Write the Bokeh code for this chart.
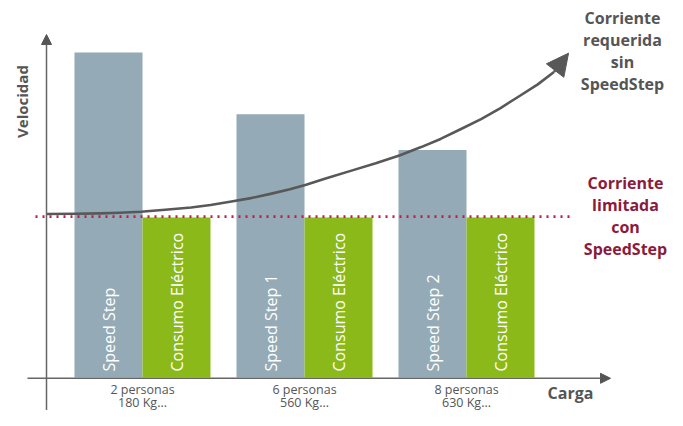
import math
from bokeh.plotting import figure
from bokeh.models import Range1d, Arrow, NormalHead
from bokeh.core.properties import value
from bokeh.embed import file_html
from bokeh.resources import INLINE

# ---------------- data ----------------
category_people = ["2 personas", "6 personas", "8 personas"]
category_load = ["180 Kg...", "560 Kg...", "630 Kg..."]
group_pos = [1, 2, 3]
speed_labels = ["Speed Step", "Speed Step 1", "Speed Step 2"]
speed_values = [100, 81, 70]
consumo_labels = ["Consumo Eléctrico", "Consumo Eléctrico", "Consumo Eléctrico"]
consumo_values = [49.2, 49.2, 49.2]
limit_value = 49.5
curve_x = [0.41, 0.58, 0.74, 0.86, 0.99, 1.14, 1.30, 1.42, 1.54, 1.67, 1.79, 1.91, 2.01,
           2.13, 2.28, 2.44, 2.59, 2.72, 2.84, 2.96, 3.09, 3.21, 3.33, 3.44, 3.54]
curve_y = [50.3, 50.4, 50.5, 50.7, 51.0, 51.6, 52.3, 53.1, 54.1, 55.2, 56.5, 57.9, 59.3,
           61.2, 63.5, 65.9, 68.4, 70.9, 73.4, 76.3, 79.5, 82.9, 86.7, 90.2, 94.0]
curve_tip = (3.63, 99.8)
label_required = "Corriente\nrequerida\nsin\nSpeedStep"
label_limited = "Corriente\nlimitada\ncon\nSpeedStep"
x_title = "Carga"
y_title = "Velocidad"

# ---------------- layout helpers (canvas pixel -> data) ----------------
W, H = 667, 410
PXX, X1 = 162.0, 142.0      # px per group unit, canvas x of group 1
PXY, Y0 = 3.25, 377.0       # px per velocity unit, canvas y of zero

def X(px):
    return 1 + (px - X1) / PXX

def Y(py):
    return (Y0 - py) / PXY

GRAY = "#94aab6"
GREEN = "#8cb91a"
DARK = "#555555"
RED = "#8b1a3b"
DOT = "#c8164f"
FONT = value("Open Sans")

p = figure(width=W, height=H, x_range=Range1d(X(0), X(W)), y_range=Range1d(Y(H), Y(0)),
           x_axis_type=None, y_axis_type=None, toolbar_location=None, output_backend="svg",
           min_border=0, outline_line_color=None)
p.grid.visible = False
p.background_fill_color = "white"

bw = 68 / PXX
speed_x = [g - bw / 2 for g in group_pos]
consumo_x = [g + bw / 2 for g in group_pos]

p.vbar(x=speed_x, width=bw, top=speed_values, bottom=0, fill_color=GRAY, line_color=None)
p.vbar(x=consumo_x, width=bw, top=consumo_values, bottom=0, fill_color=GREEN, line_color=None)

# labels inside bars
p.text(x=speed_x, y=[Y(371)] * 3, text=speed_labels, angle=math.pi / 2, text_align="left",
       text_baseline="middle", text_color="white", text_font=FONT, text_font_size="16px")
p.text(x=consumo_x, y=[Y(371)] * 3, text=consumo_labels, angle=math.pi / 2, text_align="left",
       text_baseline="middle", text_color="white", text_font=FONT, text_font_size="16px")

# dotted limit line
p.line(x=[X(35), X(572)], y=[limit_value, limit_value], line_color=DOT, line_width=2.6,
       line_dash="2 5")

# axes with arrows
p.add_layout(Arrow(x_start=X(46), y_start=Y(412), x_end=X(46), y_end=Y(34),
                   line_color="#666666", line_width=1.5,
                   end=NormalHead(size=10, fill_color="#555555", line_color="#555555")))
p.add_layout(Arrow(x_start=X(27), y_start=Y(377.8), x_end=X(610), y_end=Y(377.8),
                   line_color="#666666", line_width=1.5,
                   end=NormalHead(size=10, fill_color="#555555", line_color="#555555")))

# curve
p.line(x=curve_x, y=curve_y, line_color="#585858", line_width=2.6, line_join="round")
p.add_layout(Arrow(x_start=curve_x[-1], y_start=curve_y[-1], x_end=curve_tip[0], y_end=curve_tip[1],
                   line_color="#585858", line_width=2.6,
                   end=NormalHead(size=22, fill_color="#585858", line_color="#585858")))

# category labels (two lines, kept inside the canvas)
p.text(x=group_pos, y=[Y(389)] * 3, text=category_people, text_align="center",
       text_baseline="alphabetic", text_color=DARK, text_font=FONT, text_font_size="12.5px")
p.text(x=group_pos, y=[Y(401.5)] * 3, text=category_load, text_align="center",
       text_baseline="alphabetic", text_color=DARK, text_font=FONT, text_font_size="12.5px")

# titles
p.text(x=[X(21)], y=[Y(101)], text=[y_title], angle=math.pi / 2, text_align="center",
       text_baseline="middle", text_color=DARK, text_font=FONT, text_font_size="15px",
       text_font_style="bold")
p.text(x=[X(570)], y=[Y(392)], text=[x_title], text_align="center", text_baseline="middle",
       text_color=DARK, text_font=FONT, text_font_size="16px", text_font_style="bold")

p.text(x=[X(622)], y=[Y(50)], text=[label_required], text_align="center", text_baseline="middle",
       text_color=DARK, text_font=FONT, text_font_size="16px", text_font_style="bold",
       text_line_height=1.0)
p.text(x=[X(625)], y=[Y(215)], text=[label_limited], text_align="center", text_baseline="middle",
       text_color=RED, text_font=FONT, text_font_size="16px", text_font_style="bold",
       text_line_height=1.0)

open("out.html", "w").write(file_html(p, INLINE))
